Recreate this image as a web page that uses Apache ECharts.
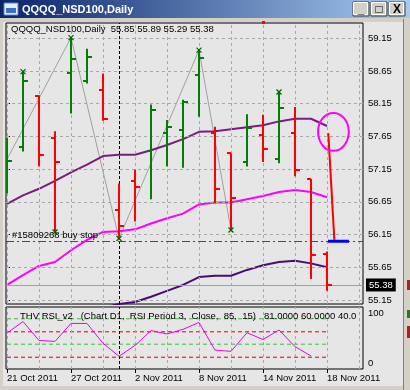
<!DOCTYPE html>
<html><head><meta charset="utf-8">
<script src="https://cdn.jsdelivr.net/npm/echarts@6/dist/echarts.min.js"></script>
<style>html,body{margin:0;padding:0;background:#D4D0C8;}#c{width:410px;height:390px;}</style>
</head><body><div id="c"></div>
<script>
// ---- data ----
const dates = ['21 Oct 2011','24 Oct 2011','25 Oct 2011','26 Oct 2011','27 Oct 2011','28 Oct 2011','31 Oct 2011',
  '1 Nov 2011','2 Nov 2011','3 Nov 2011','4 Nov 2011','7 Nov 2011','8 Nov 2011','9 Nov 2011','10 Nov 2011',
  '11 Nov 2011','14 Nov 2011','15 Nov 2011','16 Nov 2011','17 Nov 2011','18 Nov 2011'];
const openP  = [56.90,57.49,58.27,57.62,58.62,58.49,58.36,56.52,56.97,57.42,57.70,57.75,58.59,57.71,57.39,57.26,57.67,57.31,57.70,57.00,55.85];
const highP  = [57.63,58.64,58.28,57.73,59.16,58.99,58.61,56.93,57.14,58.14,57.90,58.21,58.97,57.80,57.39,57.99,57.98,58.33,58.10,57.00,55.89];
const lowP   = [56.78,57.42,57.19,56.19,58.00,58.46,57.89,56.09,56.35,56.69,57.19,57.17,57.95,56.63,56.22,57.19,57.26,57.24,57.04,55.47,55.29];
const closeP = [57.27,58.49,57.36,57.26,58.83,58.87,57.91,56.28,56.88,58.05,57.79,58.17,58.85,56.84,56.71,57.78,57.46,58.09,57.13,55.84,55.38];
const upperBand  = [56.62,56.75,56.85,56.97,57.10,57.22,57.35,57.37,57.37,57.44,57.52,57.61,57.72,57.73,57.76,57.79,57.82,57.88,57.92,57.92,57.81];
const middleBand = [55.38,55.53,55.67,55.73,55.91,56.07,56.19,56.20,56.23,56.32,56.40,56.47,56.61,56.64,56.64,56.69,56.74,56.80,56.83,56.80,56.72];
const lowerBand  = [54.14,54.31,54.49,54.49,54.72,54.92,55.03,55.09,55.12,55.20,55.29,55.38,55.50,55.52,55.52,55.61,55.68,55.73,55.75,55.71,55.65];
const zigzag = [[0,57.30],[4,59.16],[7,56.09],[12,58.97],[14,56.22]];
const pivots = [[1,58.64],[3,56.19],[4,59.16],[7,56.09],[12,58.97],[14,56.22],[17,58.33]];
const rsi = [58,76.5,46,44.5,73.5,73.5,41.5,20.5,38,62,56.5,64,75,30.5,28.5,58.5,47.5,63,36,21];
const rsiLevels = [81,60,40,19];
const rsiLevelColors = ['#33C433','#E00000','#33C433','#E00000'];
const priceTicks = [55.15,55.65,56.15,56.65,57.15,57.65,58.15,58.65,59.15];
const rsiTicks = [0,100];
const dateTickIdx = [0,4,8,12,16,20];
const vGridIdx = [0,2,4,6,8,10,12,14,16,18,20,22];
const separatorIdx = 7;
const bidPrice = 55.38;
const headerOHLC = [55.85,55.89,55.29,55.38];
const buyStopPrice = 56.05;
const orderLabel = '#15809268 buy stop';
const blueSeg = [[20.06,56.05],[21.37,56.05]];
const arrowLine = [[20.46,56.07],[20.08,57.70]];
const circleCenter = [20.4,57.72];
const circleRadii = [0.96,0.29];

const FONT = "'Liberation Sans', Arial, sans-serif";
const FS = 9.5;
const XMIN = -0.0625, XMAX = 22.25;
const chart = echarts.init(document.getElementById('c'));
const dash = {color:'#A8A8A8', width:1, type:[3,3]};
const sep = {color:'#000', width:1, type:[3,2]};

function gridLines(axisIdx, withPrice){
  const d = vGridIdx.map(v=>({xAxis:v}));
  if (withPrice) priceTicks.forEach(v=>d.push({yAxis:v}));
  return {type:'line', xAxisIndex:axisIdx, yAxisIndex:axisIdx, data:[], z:1,
    markLine:{silent:true, symbol:'none', label:{show:false}, lineStyle:dash, data:d, animation:false}};
}

const option = {
  animation:false,
  backgroundColor:'#E6E6E6',
  textStyle:{fontFamily:FONT},
  grid:[
    {left:6, top:23, width:357, height:281, show:true, borderColor:'#000', borderWidth:1, backgroundColor:'transparent'},
    {left:6, top:307, width:357, height:62, show:true, borderColor:'#000', borderWidth:1, backgroundColor:'transparent'}
  ],
  xAxis:[
    {gridIndex:0, type:'value', min:XMIN, max:XMAX, axisLine:{show:false}, axisTick:{show:false}, axisLabel:{show:false}, splitLine:{show:false}},
    {gridIndex:1, type:'value', min:XMIN, max:XMAX, axisLine:{show:false},
      axisTick:{show:true, customValues:dateTickIdx, length:4, lineStyle:{color:'#000'}},
      axisLabel:{show:true, customValues:dateTickIdx, formatter:v=>dates[v], align:'left', color:'#000', fontSize:FS, margin:4, fontFamily:FONT},
      splitLine:{show:false}}
  ],
  yAxis:[
    {gridIndex:0, type:'value', position:'right', min:55.089, max:59.384, axisLine:{show:false},
      axisTick:{show:true, customValues:priceTicks, length:3, lineStyle:{color:'#000'}},
      axisLabel:{show:true, customValues:priceTicks, formatter:v=>v.toFixed(2), color:'#000', fontSize:FS, margin:5, fontFamily:FONT},
      splitLine:{show:false}},
    {gridIndex:1, type:'value', position:'right', min:0, max:100, axisLine:{show:false},
      axisTick:{show:false},
      axisLabel:{show:true, customValues:rsiTicks, color:'#000', fontSize:FS, margin:5, fontFamily:FONT,
        formatter:v=> v===100 ? '{t|100}' : '{b|0}',
        rich:{t:{padding:[13,0,0,0], fontSize:FS, fontFamily:FONT, color:'#000'}, b:{padding:[0,0,12,0], fontSize:FS, fontFamily:FONT, color:'#000'}}},
      splitLine:{show:false}}
  ],
  series:[
    gridLines(0,true),
    gridLines(1,false),
    {type:'line', xAxisIndex:0, yAxisIndex:0, data:[], z:3,
      markLine:{silent:true, symbol:'none', animation:false, data:[
        {xAxis:separatorIdx, lineStyle:sep, label:{show:false}},
        {yAxis:bidPrice, lineStyle:{color:'#A0A0A0', width:1, type:'solid'},
          label:{show:true, position:'end', formatter:bidPrice.toFixed(2), color:'#fff', backgroundColor:'#000', padding:[2,3,1,3], fontSize:FS, fontFamily:FONT, distance:3}},
        {yAxis:buyStopPrice, lineStyle:{color:'#008000', width:1, type:[8,3,2,3]},
          label:{show:true, position:'insideStartTop', formatter:orderLabel, color:'#000', fontSize:FS, fontFamily:FONT, distance:1, padding:[0,0,0,5]}}
      ]}},
    {type:'line', xAxisIndex:1, yAxisIndex:1, data:[], z:3,
      markLine:{silent:true, symbol:'none', animation:false, label:{show:false}, lineStyle:sep, data:[{xAxis:separatorIdx}]}},
    {type:'line', xAxisIndex:0, yAxisIndex:0, data:zigzag, showSymbol:false, z:2,
      lineStyle:{color:'#A0A0A0', width:1}},
    {type:'line', xAxisIndex:0, yAxisIndex:0, data:upperBand.map((v,i)=>[i,v]), showSymbol:false, z:4, lineStyle:{color:'#7D1A80', width:2}},
    {type:'line', xAxisIndex:0, yAxisIndex:0, data:middleBand.map((v,i)=>[i,v]), showSymbol:false, z:4, lineStyle:{color:'#FF00FF', width:2}},
    {type:'line', xAxisIndex:0, yAxisIndex:0, data:lowerBand.map((v,i)=>[i,v]), showSymbol:false, z:4, lineStyle:{color:'#4A0A78', width:2}},
    {type:'custom', xAxisIndex:0, yAxisIndex:0, z:5, clip:true,
      data:openP.map((o,i)=>[i,o,highP[i],lowP[i],closeP[i]]),
      encode:{x:0, y:[1,2,3,4]},
      renderItem:(params, api)=>{
        const i = api.value(0);
        const o = api.coord([i, api.value(1)]), h = api.coord([i, api.value(2)]);
        const l = api.coord([i, api.value(3)]), c = api.coord([i, api.value(4)]);
        const col = api.value(4) >= api.value(1) ? '#008000' : '#FF0000';
        const x = Math.round(h[0]);
        return {type:'group', children:[
          {type:'line', shape:{x1:x, y1:h[1], x2:x, y2:l[1]}, style:{stroke:col, lineWidth:2}},
          {type:'line', shape:{x1:x-4, y1:Math.round(o[1]), x2:x, y2:Math.round(o[1])}, style:{stroke:col, lineWidth:2}},
          {type:'line', shape:{x1:x, y1:Math.round(c[1]), x2:x+5, y2:Math.round(c[1])}, style:{stroke:col, lineWidth:2}}
        ]};
      }},
    {type:'custom', xAxisIndex:0, yAxisIndex:0, z:6, data:pivots, encode:{x:0,y:1},
      renderItem:(params, api)=>{
        const c = api.coord([api.value(0), api.value(1)]); const s = 2.5;
        return {type:'group', children:[
          {type:'line', shape:{x1:c[0]-s, y1:c[1]-s, x2:c[0]+s, y2:c[1]+s}, style:{stroke:'#006400', lineWidth:1.2}},
          {type:'line', shape:{x1:c[0]-s, y1:c[1]+s, x2:c[0]+s, y2:c[1]-s}, style:{stroke:'#006400', lineWidth:1.2}}
        ]};
      }},
    {type:'line', xAxisIndex:0, yAxisIndex:0, data:blueSeg, showSymbol:false, z:7, lineStyle:{color:'#0000FF', width:3}},
    {type:'line', xAxisIndex:0, yAxisIndex:0, data:[], z:8,
      markLine:{silent:true, animation:false, symbol:['none','arrow'], symbolSize:[0,9], label:{show:false},
        lineStyle:{color:'#FF0000', width:2, type:'solid'},
        data:[[{coord:arrowLine[0]},{coord:arrowLine[1]}]]}},
    ...rsiLevels.map((lv,k)=>({type:'line', xAxisIndex:1, yAxisIndex:1, showSymbol:false, z:3,
      data:dates.map((d,i)=>[i,lv]), lineStyle:{color:rsiLevelColors[k], width:1, type:[4,3]}})),
    {type:'line', xAxisIndex:1, yAxisIndex:1, showSymbol:false, z:5,
      data:rsi.map((v,i)=>[i,v]), lineStyle:{color:'#EE00EE', width:1}}
  ]
};
chart.setOption(option);

const cc = chart.convertToPixel({gridIndex:0}, circleCenter);
const cr = chart.convertToPixel({gridIndex:0}, [circleCenter[0]+circleRadii[0], circleCenter[1]+circleRadii[1]]);
const headerText = 'QQQQ_NSD100,Daily  ' + headerOHLC.map(v=>v.toFixed(2)).join(' ');
const rsiText = 'THV RSI_v2   (Chart D1,  RSI Period 3,  Close,  85,  15)   81.0000 60.0000 40.0000 19.0000';
const fr = '#D4D0C8';
function btn(x, label){
  return [
    {type:'rect', shape:{x:x, y:2, width:16, height:14}, style:{fill:fr, stroke:'#404040', lineWidth:1}, z:100},
    {type:'rect', shape:{x:x+0.5, y:2.5, width:14, height:12}, style:{fill:fr, stroke:'#FFFFFF', lineWidth:1}, z:100},
    {type:'text', style:{text:label, x:x+8, y:9.5, fill:'#000', font:'bold 12px "Liberation Sans", sans-serif', align:'center', verticalAlign:'middle'}, z:101}
  ];
}
const graphic = [
  {type:'rect', shape:{x:0, y:0, width:410, height:22}, style:{fill:fr}, z:90},
  {type:'rect', shape:{x:0, y:0, width:3, height:390}, style:{fill:fr}, z:90},
  {type:'rect', shape:{x:404, y:0, width:6, height:390}, style:{fill:fr}, z:90},
  {type:'rect', shape:{x:403, y:19, width:1, height:371}, style:{fill:'#808080'}, z:91},
  {type:'rect', shape:{x:0, y:386, width:410, height:4}, style:{fill:fr}, z:90},
  {type:'rect', shape:{x:407, y:280, width:3, height:10}, style:{fill:'#B02020'}, z:92},
  {type:'rect', shape:{x:407, y:326, width:3, height:12}, style:{fill:'#B02020'}, z:92},
  {type:'rect', shape:{x:407, y:310, width:3, height:8}, style:{fill:'#208020'}, z:92},
  {type:'rect', shape:{x:0, y:0, width:410, height:18},
    style:{fill:{type:'linear', x:0, y:0, x2:1, y2:0, colorStops:[{offset:0, color:'#0A246A'},{offset:1, color:'#A6CAF0'}]}}, z:95},
  {type:'rect', shape:{x:4, y:3, width:14, height:12}, style:{fill:'#E8EEF8', stroke:'#5A7EC8', lineWidth:1}, z:96},
  {type:'rect', shape:{x:6, y:8, width:10, height:5}, style:{fill:'#3A6FD0'}, z:96},
  {type:'text', style:{text:'QQQQ_NSD100,Daily', x:22, y:9.5, fill:'#FFFFFF', font:'bold 11px "Liberation Sans", sans-serif', verticalAlign:'middle'}, z:96},
  ...btn(353,'_'), ...btn(371,'□'), ...btn(389,'X'),
  {type:'text', style:{text:headerText, x:11, y:29.5, fill:'#000', font:FS + 'px ' + FONT, verticalAlign:'middle'}, z:50},
  {type:'text', style:{text:rsiText, x:20, y:316, fill:'#000', font:FS + 'px ' + FONT, verticalAlign:'middle', width:342, overflow:'truncate', ellipsis:''}, z:50},
  {type:'ellipse', shape:{cx:cc[0], cy:cc[1], rx:Math.abs(cr[0]-cc[0]), ry:Math.abs(cr[1]-cc[1])}, style:{fill:'none', stroke:'#FF00FF', lineWidth:2}, z:60},
  {type:'rect', shape:{x:262, y:21, width:3, height:3}, style:{fill:'#FF0000'}, z:92}
];
chart.setOption({graphic:graphic});
</script></body></html>
